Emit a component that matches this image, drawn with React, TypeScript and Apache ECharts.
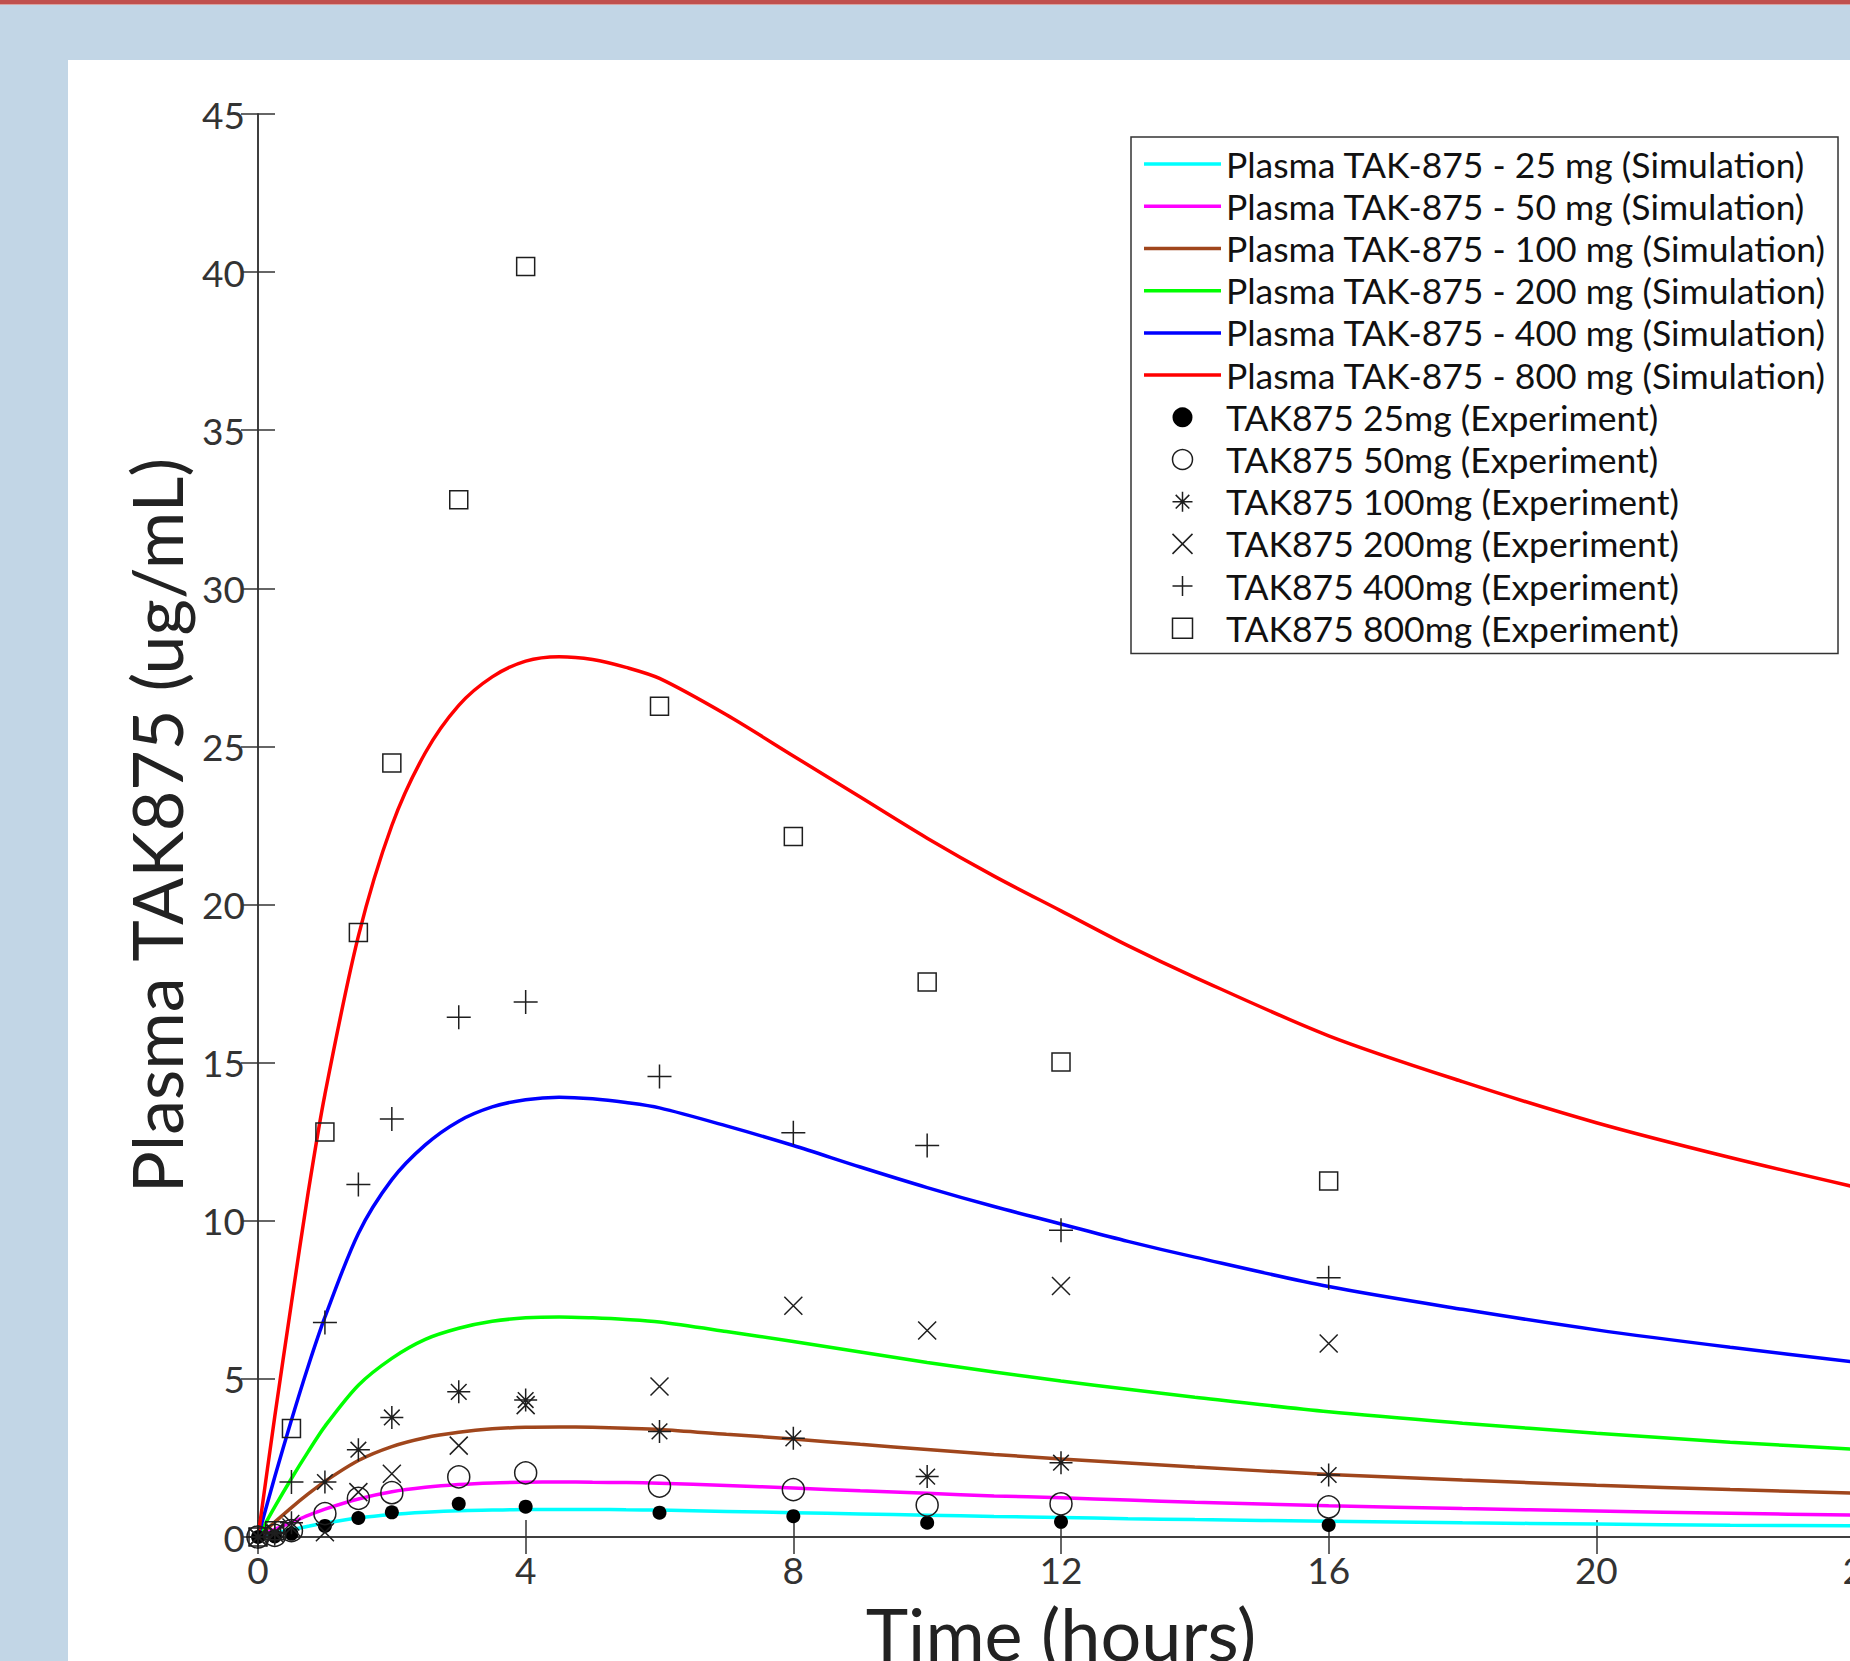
import React, { useEffect, useRef } from "react";
import * as echarts from "echarts";

// ---------- Simulation curves (hours -> ug/mL) ----------
const simTimes = [0, 0.25, 0.5, 0.75, 1, 1.5, 2, 2.5, 3, 3.5, 4, 4.5, 5, 5.5, 6, 7, 8, 9, 10, 11, 12, 13, 14, 16, 18, 20, 22, 24];
const sim25 = [0, 0.12, 0.23, 0.34, 0.44, 0.6, 0.71, 0.78, 0.83, 0.85, 0.87, 0.87, 0.87, 0.86, 0.85, 0.81, 0.77, 0.73, 0.69, 0.65, 0.62, 0.58, 0.55, 0.5, 0.45, 0.41, 0.37, 0.35];
const sim50 = [0, 0.24, 0.46, 0.68, 0.88, 1.2, 1.43, 1.57, 1.66, 1.71, 1.73, 1.74, 1.73, 1.72, 1.7, 1.63, 1.55, 1.46, 1.38, 1.3, 1.24, 1.17, 1.1, 0.99, 0.9, 0.82, 0.75, 0.69];
const sim100 = [0, 0.47, 0.93, 1.36, 1.76, 2.42, 2.86, 3.14, 3.31, 3.42, 3.47, 3.48, 3.47, 3.44, 3.4, 3.25, 3.1, 2.93, 2.77, 2.61, 2.47, 2.34, 2.21, 1.98, 1.8, 1.64, 1.5, 1.38];
const sim200 = [0, 0.95, 1.85, 2.7, 3.5, 4.8, 5.65, 6.25, 6.6, 6.82, 6.93, 6.96, 6.93, 6.88, 6.8, 6.5, 6.18, 5.85, 5.52, 5.22, 4.93, 4.67, 4.42, 3.96, 3.6, 3.28, 3.0, 2.76];
const sim400 = [0, 1.9, 3.7, 5.4, 6.95, 9.6, 11.3, 12.4, 13.15, 13.6, 13.83, 13.91, 13.86, 13.74, 13.57, 13.0, 12.38, 11.7, 11.05, 10.45, 9.9, 9.35, 8.85, 7.92, 7.2, 6.55, 6.0, 5.5];
const sim800 = [0, 3.8, 7.4, 10.9, 14.0, 19.0, 22.5, 24.8, 26.3, 27.2, 27.7, 27.84, 27.75, 27.5, 27.15, 26.0, 24.7, 23.4, 22.1, 20.9, 19.8, 18.7, 17.7, 15.85, 14.4, 13.1, 12.0, 11.0];

// ---------- Experimental observations ----------
const expTimes = [0, 0.25, 0.5, 1, 1.5, 2, 3, 4, 6, 8, 10, 12, 16];
const exp25 = [0, 0.02, 0.1, 0.35, 0.6, 0.78, 1.05, 0.96, 0.77, 0.66, 0.45, 0.48, 0.38];
const exp50 = [0, 0.05, 0.2, 0.74, 1.22, 1.4, 1.9, 2.03, 1.61, 1.5, 1.01, 1.05, 0.95];
const exp100 = [0, 0.15, 0.45, 1.74, 2.76, 3.78, 4.59, 4.33, 3.34, 3.12, 1.91, 2.35, 1.96];
const exp200 = [0, 0.1, 0.3, 0.15, 1.42, 2.0, 2.89, 4.17, 4.76, 7.31, 6.53, 7.94, 6.12];
const exp400 = [0, 0.1, 1.74, 6.78, 11.15, 13.22, 16.44, 16.92, 14.56, 12.78, 12.38, 9.7, 8.2];
const exp800 = [0, 0.2, 3.43, 12.81, 19.12, 24.48, 32.8, 40.18, 26.27, 22.15, 17.55, 15.02, 11.26];

const simNames = [
  "Plasma TAK-875 - 25 mg (Simulation)",
  "Plasma TAK-875 - 50 mg (Simulation)",
  "Plasma TAK-875 - 100 mg (Simulation)",
  "Plasma TAK-875 - 200 mg (Simulation)",
  "Plasma TAK-875 - 400 mg (Simulation)",
  "Plasma TAK-875 - 800 mg (Simulation)",
];
const expNames = [
  "TAK875 25mg (Experiment)",
  "TAK875 50mg (Experiment)",
  "TAK875 100mg (Experiment)",
  "TAK875 200mg (Experiment)",
  "TAK875 400mg (Experiment)",
  "TAK875 800mg (Experiment)",
];

const xTicks = { min: 0, max: 24, interval: 4 };
const yTicks = { min: 0, max: 45, interval: 5 };

const simColors = ["#00FFFF", "#FF00FF", "#A0461C", "#00FF00", "#0000FF", "#FF0000"];

const STAR = "path://M5,0 L5,10 M0,5 L10,5 M1.6,1.6 L8.4,8.4 M8.4,1.6 L1.6,8.4";
const XMARK = "path://M0,0 L10,10 M10,0 L0,10";
const PLUS = "path://M5,0 L5,10 M0,5 L10,5";
const SQUARE = "path://M0,0 L10,0 L10,10 L0,10 Z";
const LINEICON = "path://M0,0 L100,0 L100,4.5 L0,4.5 Z";

const expSymbols = ["circle", "circle", STAR, XMARK, PLUS, SQUARE];
const expSizes = [14, 22, 23, 18, 24, 18];
const expFills = ["#000", "transparent", "transparent", "transparent", "transparent", "transparent"];

const FONT = "Lato";

export default function App() {
  const ref = useRef<HTMLDivElement>(null);
  useEffect(() => {
    if (!ref.current) return;
    const chart = echarts.init(ref.current, null, { renderer: "svg" });
    const simData = [sim25, sim50, sim100, sim200, sim400, sim800];
    const expData = [exp25, exp50, exp100, exp200, exp400, exp800];

    const axisLine = { show: true, lineStyle: { color: "#333", width: 1.5 } };
    const tick = { show: true, inside: true, length: 17, lineStyle: { color: "#333", width: 1.5 } };

    const series: any[] = [];
    simData.forEach((arr, i) => {
      series.push({
        name: simNames[i],
        type: "line",
        data: simTimes.map((t, k) => [t, arr[k]]),
        symbol: "none",
        showSymbol: false,
        smooth: 0.3,
        lineStyle: { color: simColors[i], width: 3.5 },
        itemStyle: { color: simColors[i] },
        z: 2,
      });
    });
    expData.forEach((arr, i) => {
      series.push({
        name: expNames[i],
        type: "scatter",
        data: expTimes.map((t, k) => [t, arr[k]]),
        symbol: expSymbols[i],
        symbolSize: expSizes[i],
        itemStyle: { color: expFills[i], borderColor: "#1e1e1e", borderWidth: i === 0 ? 0 : 1.5, opacity: 1 },
        z: 3,
      });
    });

    const legendData: any[] = [];
    simNames.forEach((n, i) =>
      legendData.push({ name: n, icon: LINEICON, itemStyle: { color: simColors[i], borderWidth: 0 } })
    );
    expNames.forEach((n, i) =>
      legendData.push({
        name: n,
        icon: expSymbols[i],
        itemStyle: { color: expFills[i], borderColor: "#1e1e1e", borderWidth: i === 0 ? 0 : 1.5 },
      })
    );

    chart.setOption({
      animation: false,
      backgroundColor: "transparent",
      grid: { left: 258, top: 114, width: 1606, height: 1423, containLabel: false, outerBoundsMode: "none" },
      legend: {
        data: legendData,
        orient: "vertical",
        left: 1131,
        top: 137,
        padding: [6, 12, 4, 13],
        itemWidth: 77,
        itemHeight: 20,
        itemGap: 0,
        backgroundColor: "#fff",
        borderColor: "#333",
        borderWidth: 1.5,
        borderRadius: 0,
        selectedMode: false,
        textStyle: { fontFamily: FONT, fontSize: 35.5, color: "#111", lineHeight: 42.2 },
      },
      xAxis: [
        {
          type: "value",
          position: "bottom",
          ...xTicks,
          axisLine,
          axisTick: tick,
          splitLine: { show: false },
          axisLabel: { fontFamily: FONT, fontSize: 37, color: "#333", margin: 14 },
          name: "Time (hours)",
          nameLocation: "middle",
          nameGap: 60,
          nameTextStyle: { fontFamily: FONT, fontSize: 72, color: "#222" },
        },
        {
          type: "value",
          position: "top",
          ...xTicks,
          axisLine,
          axisTick: tick,
          splitLine: { show: false },
          axisLabel: { show: false },
        },
      ],
      yAxis: [
        {
          type: "value",
          position: "left",
          ...yTicks,
          axisLine,
          axisTick: tick,
          splitLine: { show: false },
          axisLabel: { fontFamily: FONT, fontSize: 37, color: "#333", margin: 13 },
          name: "Plasma TAK875 (ug/mL)",
          nameLocation: "middle",
          nameRotate: 90,
          nameGap: 64,
          nameTextStyle: { fontFamily: FONT, fontSize: 70, color: "#222" },
        },
        {
          type: "value",
          position: "right",
          ...yTicks,
          axisLine,
          axisTick: tick,
          splitLine: { show: false },
          axisLabel: { show: false },
        },
      ],
      series,
    });
    return () => chart.dispose();
  }, []);

  return (
    <div
      style={{
        position: "fixed",
        left: 0,
        top: 0,
        width: 1850,
        height: 1661,
        overflow: "hidden",
        background: "#C2D6E6",
      }}
    >
      <div style={{ position: "absolute", left: 0, top: 0, width: 1850, height: 4, background: "#C0504D" }} />
      <div style={{ position: "absolute", left: 0, top: 4, width: 1850, height: 1, background: "#D8A2A0" }} />
      <div style={{ position: "absolute", left: 68, top: 60, right: 0, bottom: 0, background: "#FFFFFF" }} />
      <div ref={ref} style={{ position: "absolute", left: 0, top: 0, width: 1850, height: 1661 }} />
    </div>
  );
}
